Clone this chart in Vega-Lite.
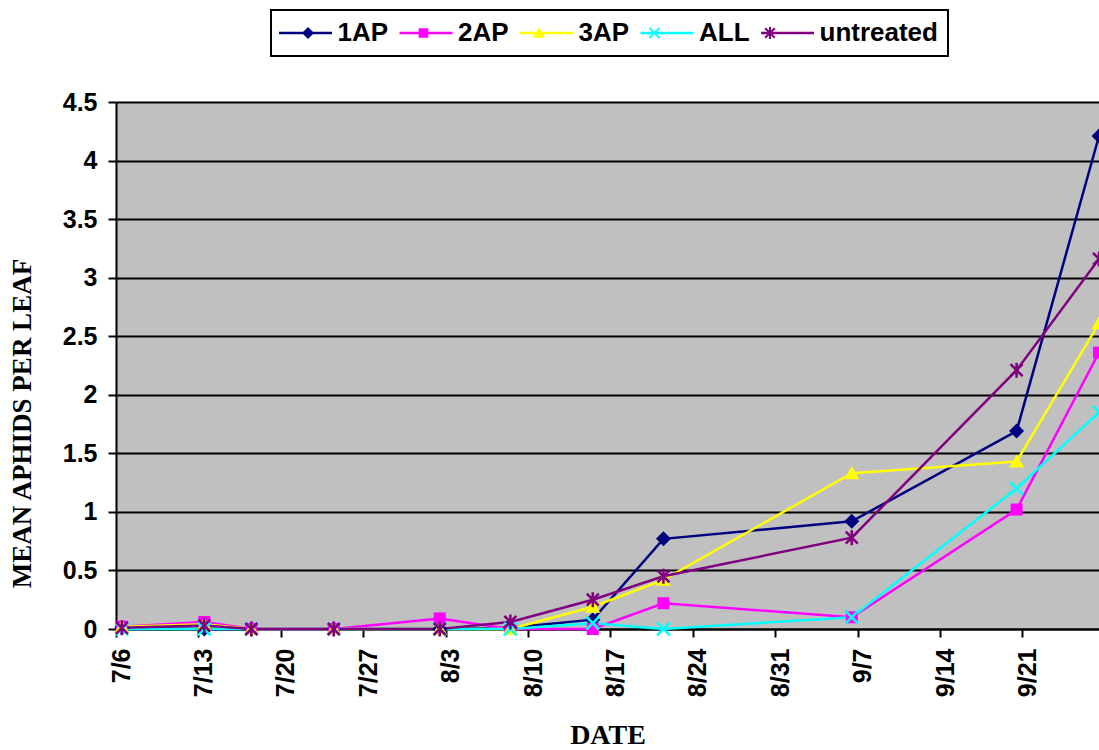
{
  "$schema": "https://vega.github.io/schema/vega-lite/v6.json",
  "autosize": {"type": "none"},
  "padding": {"left": 116, "top": 102, "right": 0, "bottom": 121},
  "width": 983,
  "height": 527,
  "background": "white",
  "view": {"fill": "#C0C0C0", "stroke": null},
  "config": {
    "font": "Liberation Sans",
    "axis": {"domainColor": "black", "domainWidth": 2, "tickColor": "black", "tickWidth": 2, "tickSize": 8, "labelColor": "black", "labelFont": "Liberation Sans", "labelFontWeight": "bold", "labelFontSize": 25, "titleFont": "Liberation Serif", "titleFontWeight": "bold", "titleColor": "black"}
  },
  "data": {"values": [
    {"date": "2005-07-06T12:00:00", "series": "1AP", "aphids": 0.01},
    {"date": "2005-07-13T12:00:00", "series": "1AP", "aphids": 0.0},
    {"date": "2005-07-17T12:00:00", "series": "1AP", "aphids": 0.0},
    {"date": "2005-07-24T12:00:00", "series": "1AP", "aphids": 0.0},
    {"date": "2005-08-02T12:00:00", "series": "1AP", "aphids": 0.0},
    {"date": "2005-08-08T12:00:00", "series": "1AP", "aphids": 0.01},
    {"date": "2005-08-15T12:00:00", "series": "1AP", "aphids": 0.08},
    {"date": "2005-08-21T12:00:00", "series": "1AP", "aphids": 0.77},
    {"date": "2005-09-06T12:00:00", "series": "1AP", "aphids": 0.92},
    {"date": "2005-09-20T12:00:00", "series": "1AP", "aphids": 1.69},
    {"date": "2005-09-27T12:00:00", "series": "1AP", "aphids": 4.21},
    {"date": "2005-07-06T12:00:00", "series": "2AP", "aphids": 0.02},
    {"date": "2005-07-13T12:00:00", "series": "2AP", "aphids": 0.06},
    {"date": "2005-07-17T12:00:00", "series": "2AP", "aphids": 0.0},
    {"date": "2005-07-24T12:00:00", "series": "2AP", "aphids": 0.0},
    {"date": "2005-08-02T12:00:00", "series": "2AP", "aphids": 0.09},
    {"date": "2005-08-08T12:00:00", "series": "2AP", "aphids": 0.0},
    {"date": "2005-08-15T12:00:00", "series": "2AP", "aphids": 0.0},
    {"date": "2005-08-21T12:00:00", "series": "2AP", "aphids": 0.22},
    {"date": "2005-09-06T12:00:00", "series": "2AP", "aphids": 0.1},
    {"date": "2005-09-20T12:00:00", "series": "2AP", "aphids": 1.02},
    {"date": "2005-09-27T12:00:00", "series": "2AP", "aphids": 2.36},
    {"date": "2005-07-06T12:00:00", "series": "3AP", "aphids": 0.02},
    {"date": "2005-07-13T12:00:00", "series": "3AP", "aphids": 0.04},
    {"date": "2005-07-17T12:00:00", "series": "3AP", "aphids": 0.0},
    {"date": "2005-07-24T12:00:00", "series": "3AP", "aphids": 0.0},
    {"date": "2005-08-02T12:00:00", "series": "3AP", "aphids": 0.0},
    {"date": "2005-08-08T12:00:00", "series": "3AP", "aphids": 0.0},
    {"date": "2005-08-15T12:00:00", "series": "3AP", "aphids": 0.19},
    {"date": "2005-08-21T12:00:00", "series": "3AP", "aphids": 0.42},
    {"date": "2005-09-06T12:00:00", "series": "3AP", "aphids": 1.33},
    {"date": "2005-09-20T12:00:00", "series": "3AP", "aphids": 1.43},
    {"date": "2005-09-27T12:00:00", "series": "3AP", "aphids": 2.61},
    {"date": "2005-07-06T12:00:00", "series": "ALL", "aphids": 0.0},
    {"date": "2005-07-13T12:00:00", "series": "ALL", "aphids": 0.0},
    {"date": "2005-07-17T12:00:00", "series": "ALL", "aphids": 0.0},
    {"date": "2005-07-24T12:00:00", "series": "ALL", "aphids": 0.0},
    {"date": "2005-08-02T12:00:00", "series": "ALL", "aphids": 0.0},
    {"date": "2005-08-08T12:00:00", "series": "ALL", "aphids": 0.0},
    {"date": "2005-08-15T12:00:00", "series": "ALL", "aphids": 0.05},
    {"date": "2005-08-21T12:00:00", "series": "ALL", "aphids": 0.0},
    {"date": "2005-09-06T12:00:00", "series": "ALL", "aphids": 0.1},
    {"date": "2005-09-20T12:00:00", "series": "ALL", "aphids": 1.2},
    {"date": "2005-09-27T12:00:00", "series": "ALL", "aphids": 1.85},
    {"date": "2005-07-06T12:00:00", "series": "untreated", "aphids": 0.01},
    {"date": "2005-07-13T12:00:00", "series": "untreated", "aphids": 0.03},
    {"date": "2005-07-17T12:00:00", "series": "untreated", "aphids": 0.0},
    {"date": "2005-07-24T12:00:00", "series": "untreated", "aphids": 0.0},
    {"date": "2005-08-02T12:00:00", "series": "untreated", "aphids": 0.0},
    {"date": "2005-08-08T12:00:00", "series": "untreated", "aphids": 0.06},
    {"date": "2005-08-15T12:00:00", "series": "untreated", "aphids": 0.25},
    {"date": "2005-08-21T12:00:00", "series": "untreated", "aphids": 0.45},
    {"date": "2005-09-06T12:00:00", "series": "untreated", "aphids": 0.78},
    {"date": "2005-09-20T12:00:00", "series": "untreated", "aphids": 2.21},
    {"date": "2005-09-27T12:00:00", "series": "untreated", "aphids": 3.16}
  ]},
  "encoding": {
    "x": {
      "field": "date", "type": "temporal",
      "scale": {"domain": [{"year": 2005, "month": 7, "date": 6}, {"year": 2005, "month": 9, "date": 27, "hours": 12}]},
      "axis": {
        "title": "DATE", "titleFontSize": 28, "titlePadding": 25,
        "format": "%-m/%-d", "labelAngle": -90, "labelAlign": "right", "labelBaseline": "middle", "labelPadding": 11, "labelOffset": 5, "grid": false, "labelOverlap": false,
        "values": [
          {"year": 2005, "month": 7, "date": 6}, {"year": 2005, "month": 7, "date": 13}, {"year": 2005, "month": 7, "date": 20}, {"year": 2005, "month": 7, "date": 27},
          {"year": 2005, "month": 8, "date": 3}, {"year": 2005, "month": 8, "date": 10}, {"year": 2005, "month": 8, "date": 17}, {"year": 2005, "month": 8, "date": 24},
          {"year": 2005, "month": 8, "date": 31}, {"year": 2005, "month": 9, "date": 7}, {"year": 2005, "month": 9, "date": 14}, {"year": 2005, "month": 9, "date": 21}
        ]
      }
    },
    "y": {
      "field": "aphids", "type": "quantitative",
      "scale": {"domain": [0, 4.5], "nice": false, "zero": true},
      "axis": {
        "title": "MEAN APHIDS PER LEAF", "titleFontSize": 27, "titleX": -94, "titleY": 321, "titleBaseline": "middle", "titleAlign": "center", "titleAngle": -90,
        "values": [0, 0.5, 1, 1.5, 2, 2.5, 3, 3.5, 4, 4.5], "format": "~g", "labelPadding": 11,
        "grid": true, "gridColor": "black", "gridWidth": 2, "gridOpacity": 1
      }
    }
  },
  "layer": [
    {
      "mark": {"type": "line", "strokeWidth": 2.5},
      "encoding": {
        "stroke": {
          "field": "series", "type": "nominal",
          "scale": {"domain": ["1AP", "2AP", "3AP", "ALL", "untreated"], "range": ["#000080", "#FF00FF", "#FFFF00", "#00FFFF", "#800080"]},
          "legend": {
            "title": null, "orient": "none", "legendX": 155, "legendY": -92, "direction": "horizontal",
            "strokeColor": "black", "fillColor": "white", "padding": 10,
            "symbolType": "M-1.5,0L3.8,0", "symbolSize": 400, "symbolStrokeWidth": 2.5,
            "labelFontSize": 26, "labelFontWeight": "bold", "labelColor": "black", "labelFont": "Liberation Sans",
            "labelOffset": 30.5, "columnPadding": 5.5,
            "encode": {"legend": {"update": {"strokeWidth": {"value": 2}}}}
          }
        }
      }
    },
    {
      "mark": {"type": "point", "filled": true, "size": 225, "strokeWidth": 0, "opacity": 1},
      "encoding": {
        "color": {
          "field": "series", "type": "nominal",
          "scale": {"range": ["#000080", "#FF00FF", "#FFFF00", "#00FFFF", "#800080"]},
          "legend": {
            "title": null, "orient": "none", "legendX": 169, "legendY": -92, "direction": "horizontal",
            "padding": 10, "symbolSize": 144, "symbolStrokeWidth": 2.5, "symbolStrokeColor": "transparent", "symbolOpacity": 1,
            "labelFontSize": 26, "labelFontWeight": "bold", "labelFont": "Liberation Sans", "labelOpacity": 0,
            "labelOffset": 33, "columnPadding": 5.5
          }
        },
        "shape": {
          "field": "series", "type": "nominal",
          "scale": {"range": [
            "M0,-1L1,0L0,1L-1,0Z",
            "M-0.8,-0.8H0.8V0.8H-0.8Z",
            "M0,-0.95L1,0.8L-1,0.8Z",
            "M-0.73,-0.97L0.97,0.73L0.73,0.97L-0.97,-0.73ZM-0.97,0.73L0.73,-0.97L0.97,-0.73L-0.73,0.97Z",
            "M-0.68,-0.92L0.92,0.68L0.68,0.92L-0.92,-0.68ZM-0.92,0.68L0.68,-0.92L0.92,-0.68L-0.68,0.92ZM-0.17,-1L0.17,-1L0.17,1L-0.17,1Z"
          ]}
        }
      }
    }
  ]
}
